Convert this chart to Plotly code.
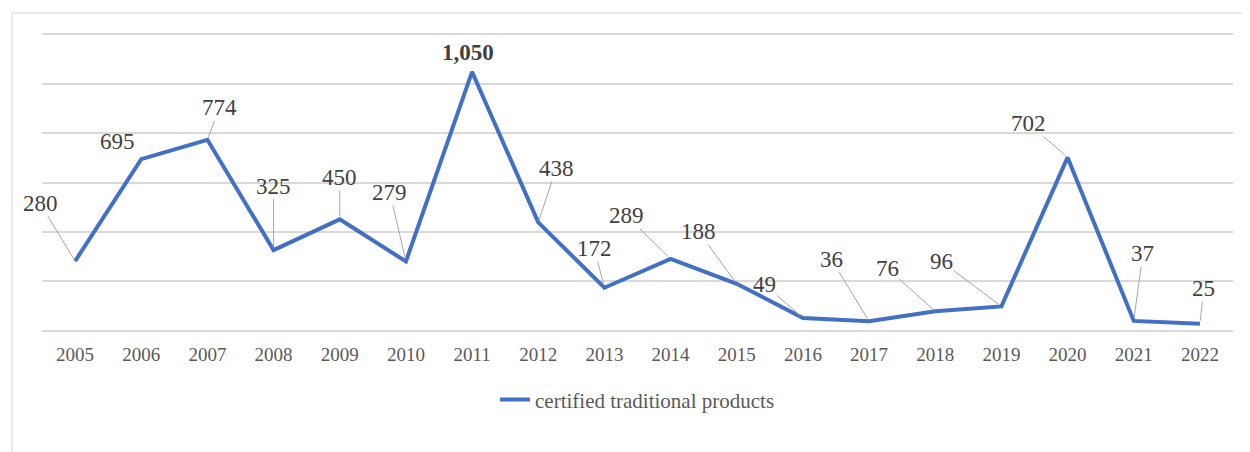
import plotly.graph_objects as go

years = ["2005", "2006", "2007", "2008", "2009", "2010", "2011", "2012", "2013",
         "2014", "2015", "2016", "2017", "2018", "2019", "2020", "2021", "2022"]
values = [280, 695, 774, 325, 450, 279, 1050, 438, 172, 289, 188, 49, 36, 76, 96, 702, 37, 25]
labels = ["280", "695", "774", "325", "450", "279", "1,050", "438", "172", "289", "188",
          "49", "36", "76", "96", "702", "37", "25"]
# label offsets (pixels) from the point, and whether a leader line is drawn
label_dx = [-35, -24, 12, 0, 0, -16, -4, 18, -10, -44, -38, -38, -38, -48, -60, -39, 9, 4]
label_dy = [-58, -18, -32, -64, -42, -69, -19, -54, -39, -43, -52, -33, -62, -43, -45, -34, -67, -35]
leader = [True, False, True, True, True, True, False, True, True, True, True, True, True, True,
          True, True, True, True]
series_name = "certified traditional products"

LINE = "#4170c4"
SERIF = "Liberation Serif, Times New Roman, serif"
fig = go.Figure()
fig.add_trace(go.Scatter(
    x=years, y=values, mode="lines", name=series_name,
    line=dict(color=LINE, width=4), hoverinfo="x+y",
))

for i, (v, lab, dx, dy, ld) in enumerate(zip(values, labels, label_dx, label_dy, leader)):
    fig.add_annotation(
        x=i, y=v, xref="x", yref="y",
        text=("<b>%s</b>" % lab) if v >= 1000 else lab,
        showarrow=True, ax=dx, ay=dy, axref="pixel", ayref="pixel",
        arrowhead=0, arrowwidth=1,
        arrowcolor="#a6a6a6" if ld else "rgba(0,0,0,0)",
        standoff=3,
        font=dict(family=SERIF, size=23, color="#404040"),
        borderpad=0,
    )

# outer chart frame
fig.add_shape(type="rect", xref="paper", yref="paper",
              x0=-0.0252, x1=1.011, y0=-0.45, y1=1.0746,
              line=dict(color="#e3e3e3", width=1.5), fillcolor="rgba(0,0,0,0)", layer="below")

fig.update_layout(
    width=1242, height=444,
    margin=dict(l=34, r=17, t=27, b=122),
    paper_bgcolor="white", plot_bgcolor="white",
    showlegend=True,
    legend=dict(orientation="h", x=0.5, xanchor="center", y=-0.237, yanchor="middle",
                font=dict(family=SERIF, size=21, color="#595959")),
    xaxis=dict(type="category", showgrid=False, zeroline=False,
               showline=True, mirror=True, linecolor="#d9d9d9", linewidth=1.5,
               ticks="", tickfont=dict(family=SERIF, size=19, color="#595959"),
               ticklabelstandoff=6, range=[-0.5, len(years) - 0.5]),
    yaxis=dict(range=[0, 1200], tickvals=[0, 200, 400, 600, 800, 1000, 1200],
               showgrid=True, gridcolor="#d9d9d9", gridwidth=1.5,
               zeroline=False, showticklabels=False, ticks=""),
)

fig.write_html("out.html")
